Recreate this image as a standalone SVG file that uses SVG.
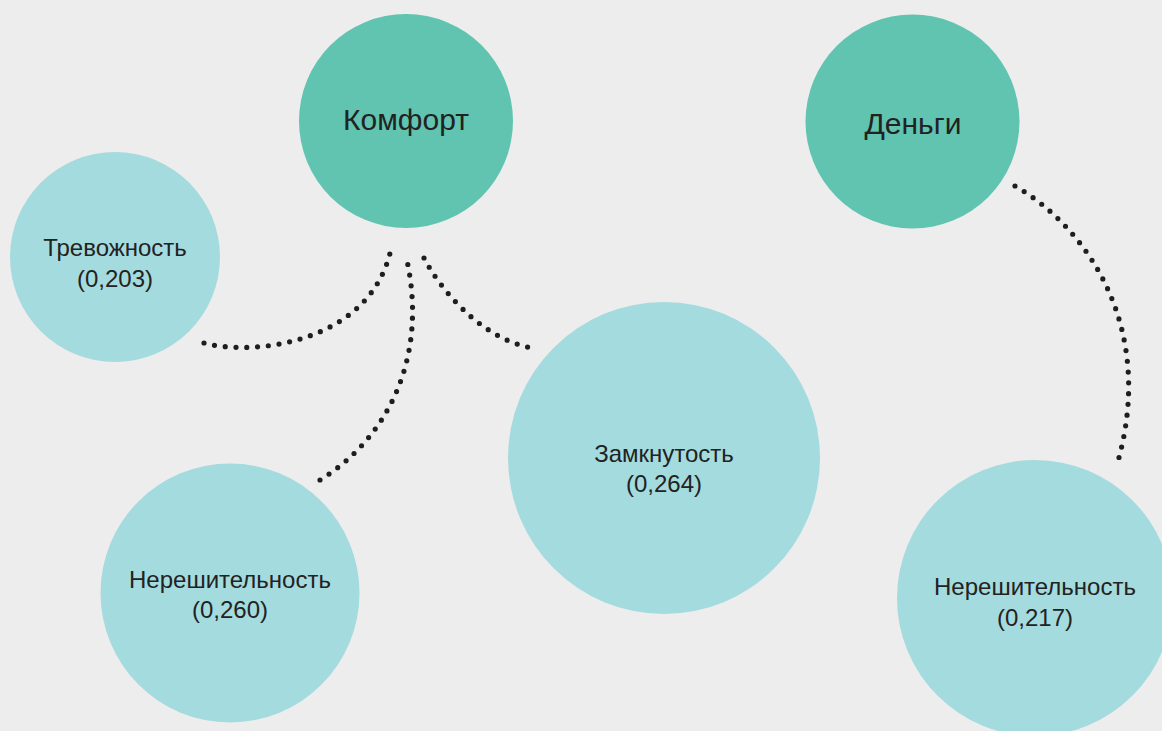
<svg xmlns="http://www.w3.org/2000/svg" width="1162" height="731" viewBox="0 0 1162 731">
<style>
.bg{fill:#ededed}
.main{fill:#60c4b0}
.sub{fill:#a4dbde}
.t{font-family:"Liberation Sans",Arial,sans-serif;fill:#222;text-anchor:middle}
.big{font-size:30px}
.sm{font-size:24px}
.dot{fill:none;stroke:#1e1e1e;stroke-width:5.2;stroke-linecap:round;stroke-dasharray:0 10.8}
</style>
<rect class="bg" x="0" y="0" width="1162" height="731"/>
<g id="connectors">
<path class="dot" d="M204,343 C250,356 370,345 391,249"/>
<path class="dot" d="M320,480 C385,440 430,360 406,256"/>
<path class="dot" d="M424,258 C438,285 478,338 532,348"/>
<path class="dot" d="M1015,186 C1088,228 1158,330 1116,468"/>
</g>
<g id="node-komfort">
<circle class="main" cx="406" cy="121" r="107"/>
<text class="t big" x="406" y="130">Комфорт</text>
</g>
<g id="node-dengi">
<circle class="main" cx="912.5" cy="121.5" r="107"/>
<text class="t big" x="913" y="134">Деньги</text>
</g>
<g id="node-trevozhnost">
<circle class="sub" cx="115" cy="257" r="105"/>
<text class="t sm" x="115" y="256">Тревожность</text>
<text class="t sm" x="115" y="287">(0,203)</text>
</g>
<g id="node-nereshitelnost-1">
<circle class="sub" cx="230" cy="593" r="129.5"/>
<text class="t sm" x="230" y="588">Нерешительность</text>
<text class="t sm" x="230" y="618">(0,260)</text>
</g>
<g id="node-zamknutost">
<circle class="sub" cx="664" cy="458" r="156"/>
<text class="t sm" x="664" y="462">Замкнутость</text>
<text class="t sm" x="664" y="492">(0,264)</text>
</g>
<g id="node-nereshitelnost-2">
<circle class="sub" cx="1035" cy="598" r="138"/>
<text class="t sm" x="1035" y="595">Нерешительность</text>
<text class="t sm" x="1035" y="626">(0,217)</text>
</g>
</svg>
